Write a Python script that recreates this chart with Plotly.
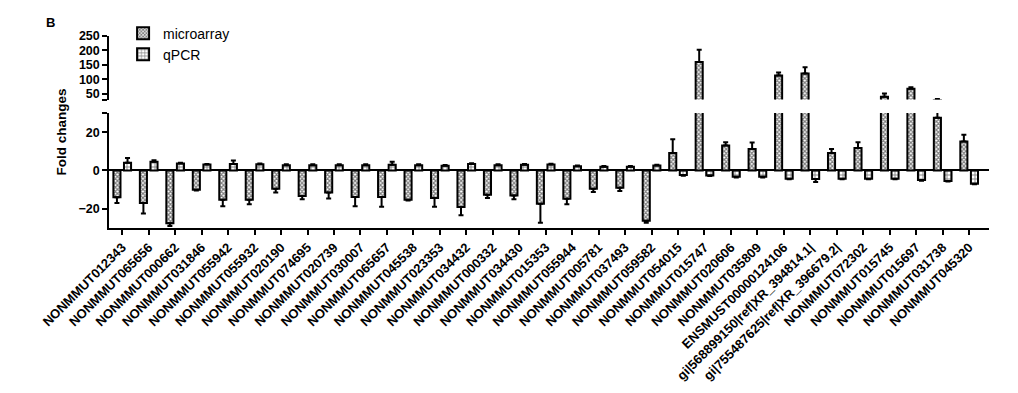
import plotly.graph_objects as go

genes = ["NONMMUT012343", "NONMMUT065656", "NONMMUT000662", "NONMMUT031846", "NONMMUT055942",
         "NONMMUT055932", "NONMMUT020190", "NONMMUT074695", "NONMMUT020739", "NONMMUT030007",
         "NONMMUT065657", "NONMMUT045538", "NONMMUT023353", "NONMMUT034432", "NONMMUT000332",
         "NONMMUT034430", "NONMMUT015353", "NONMMUT055944", "NONMMUT005781", "NONMMUT037493",
         "NONMMUT059582", "NONMMUT054015", "NONMMUT015747", "NONMMUT020606", "NONMMUT035809",
         "ENSMUST00000124106", "gi|568899150|ref|XR_394814.1|", "gi|755487625|ref|XR_396679.2|",
         "NONMMUT072302", "NONMMUT015745", "NONMMUT015697", "NONMMUT031738", "NONMMUT045320"]

microarray = [-14, -17, -27.5, -10, -15.2, -15.2, -9.5, -13.3, -11.5, -13.8, -13.8, -15.2, -14.3,
              -19, -12.6, -13, -17.3, -14.7, -9.5, -9, -26.2, 9.1, 160, 13.1, 11.2, 113, 120,
              9.1, 11.7, 40, 67, 27.5, 15.1]
microarray_err = [3, 5.5, 1.5, 0.4, 3.4, 2.4, 2, 1.7, 3.1, 4.8, 5.1, 0.4, 4.6, 4.4, 1.7, 2, 9.9,
                  2.9, 1.7, 1.7, 1, 7.2, 42, 1.7, 3.4, 11, 22, 2.1, 3.1, 11, 6, 4.5, 3.5]

qpcr = [4, 4.5, 3.6, 3.1, 3.4, 3.3, 2.8, 2.8, 2.8, 2.8, 3, 2.8, 2.5, 3.4, 2.8, 3, 3.1, 2.2, 1.9,
        1.9, 2.6, -2.4, -2.6, -3.3, -3.3, -4.3, -4.5, -4.3, -4.3, -4.3, -5, -5.5, -6.9]
qpcr_err = [2.5, 0.8, 0.4, 0.3, 1.8, 0.4, 0.4, 0.4, 0.4, 0.4, 1.5, 0.4, 0.4, 0.4, 0.4, 0.4, 0.4,
            0.4, 0.4, 0.4, 0.4, 0.3, 0.3, 0.3, 0.3, 0.3, 1.5, 0.3, 0.3, 0.3, 0.3, 0.3, 0.3]

lower_ticks = [-20, 0, 20, 30]
upper_ticks = [30, 50, 100, 150, 200, 250]


def one_sided(vals, errs):
    plus = [e if v >= 0 else 0 for v, e in zip(vals, errs)]
    minus = [e if v < 0 else 0 for v, e in zip(vals, errs)]
    return plus, minus


FONT = "Arial, Liberation Sans, sans-serif"
fig = go.Figure()

series = [
    ("microarray", microarray, microarray_err, dict(shape="x", size=3, solidity=0.65)),
    ("qPCR", qpcr, qpcr_err, dict(shape="+", size=4, solidity=0.4)),
]

for yaxis, show in (("y", True), ("y2", False)):
    for name, vals, errs, pat in series:
        plus, minus = one_sided(vals, errs)
        fig.add_trace(go.Bar(
            x=genes, y=vals, name=name, yaxis=yaxis, showlegend=show,
            marker=dict(color="white", line=dict(color="black", width=2),
                        pattern=dict(fgcolor="black", bgcolor="white", **pat)),
            error_y=dict(type="data", symmetric=False, array=plus, arrayminus=minus,
                         color="black", thickness=2, width=2.5),
        ))

fig.update_layout(
    width=1010, height=385,
    margin=dict(l=101, r=29, t=28, b=165, autoexpand=False),
    paper_bgcolor="white", plot_bgcolor="white",
    barmode="group", bargap=0.2, bargroupgap=0.33,
    font=dict(family=FONT, color="black"),
    showlegend=True,
    legend=dict(x=0.016, y=1.096, xanchor="left", yanchor="top",
                font=dict(size=14, family=FONT), bgcolor="rgba(0,0,0,0)",
                tracegroupgap=0, itemwidth=30),
    xaxis=dict(range=[-0.5, 32.75], showline=True, linecolor="black", linewidth=1.5,
               ticks="outside", ticklen=5, tickwidth=1.5, tickcolor="black",
               tickangle=-45, tickfont=dict(size=13, family=FONT, weight="bold"),
               showgrid=False, anchor="y"),
    yaxis=dict(domain=[0, 0.599], range=[-30, 30], tickvals=lower_ticks,
               ticktext=["\u221220", "0", "20", ""],
               showline=True, linecolor="black", linewidth=1.5,
               ticks="outside", ticklen=5, tickwidth=1.5, tickcolor="black",
               tickfont=dict(size=12.5, family=FONT, weight="bold"),
               showgrid=False, zeroline=True, zerolinecolor="black", zerolinewidth=1.5),
    yaxis2=dict(domain=[0.669, 1], range=[30, 250], tickvals=upper_ticks,
                ticktext=[""] + [str(t) for t in upper_ticks[1:]],
                showline=True, linecolor="black", linewidth=1.5,
                ticks="outside", ticklen=5, tickwidth=1.5, tickcolor="black",
                tickfont=dict(size=12.5, family=FONT, weight="bold"),
                showgrid=False, zeroline=False, anchor="x"),
    annotations=[
        dict(text="Fold changes", xref="paper", yref="paper", x=-0.055, y=0.5,
             xanchor="center", yanchor="middle", textangle=-90, showarrow=False,
             font=dict(size=13.5, family=FONT, weight="bold")),
        dict(text="B", xref="paper", yref="paper", x=-0.066, y=1.07,
             xanchor="center", yanchor="middle", showarrow=False,
             font=dict(size=13, family=FONT, weight="bold")),
    ],
)

fig.write_html("out.html")
